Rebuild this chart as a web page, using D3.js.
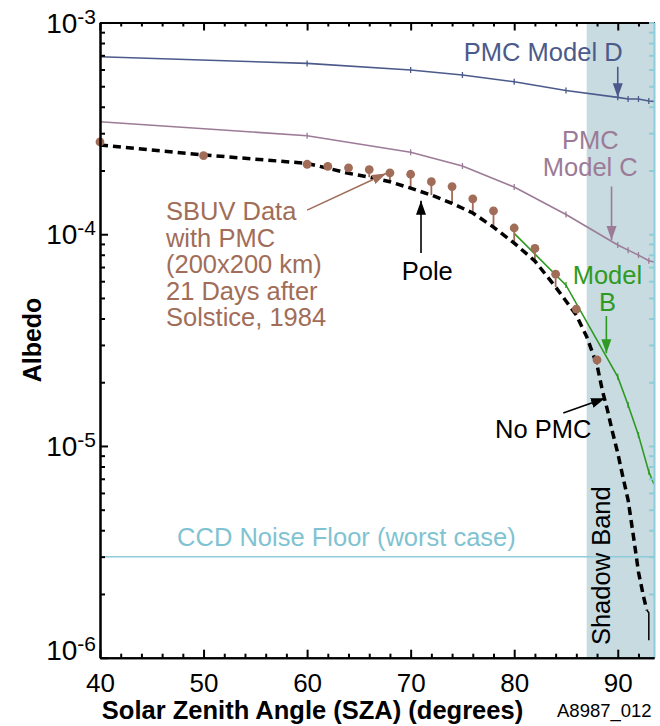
<!DOCTYPE html>
<html>
<head>
<meta charset="utf-8">
<script src="https://cdn.jsdelivr.net/npm/d3@7"></script>
<style>
  body { margin: 0; background: #fff; }
  svg { display: block; font-family: "Liberation Sans", Arial, sans-serif; }
</style>
</head>
<body>
<svg id="chart" width="660" height="726"></svg>
<script>
// SBUV measurements with PMC
const sbuvAngle = [40, 50, 60, 62, 64, 66, 68, 70, 72, 74, 76, 78, 80, 82, 84, 86, 88];
const sbuvAlbedo = [2.73e-4, 2.35e-4, 2.14e-4, 2.09e-4, 2.06e-4, 2.02e-4, 1.95e-4, 1.92e-4, 1.77e-4,
  1.68e-4, 1.47e-4, 1.29e-4, 1.07e-4, 8.57e-5, 6.48e-5, 4.43e-5, 2.55e-5];

// No PMC (pole) curve
const noPmcAngle = [40, 50, 60, 62, 64, 66, 68, 70, 72, 74, 76, 78, 80, 82, 84, 86, 87, 88, 88.5, 89,
  89.5, 90, 90.5, 91, 91.5, 92, 92.5, 92.8];
const noPmcAlbedo = [2.64e-4, 2.37e-4, 2.16e-4, 2.05e-4, 1.94e-4, 1.86e-4, 1.77e-4, 1.65e-4, 1.53e-4,
  1.40e-4, 1.26e-4, 1.08e-4, 9.08e-5, 7.47e-5, 5.63e-5, 4.15e-5, 3.28e-5, 2.41e-5, 1.84e-5, 1.48e-5,
  1.16e-5, 9.25e-6, 7.13e-6, 5.55e-6, 3.79e-6, 2.54e-6, 1.93e-6, 1.68e-6];
const noPmcTailAngle = [92.8, 93, 93];
const noPmcTailAlbedo = [1.68e-6, 1.63e-6, 1.21e-6];

// PMC models
const modelAngle = [40, 60, 70, 75, 80, 85, 90, 91, 92, 93, 93.5];
const modelD = [6.89e-4, 6.41e-4, 5.97e-4, 5.65e-4, 5.25e-4, 4.77e-4, 4.43e-4, 4.35e-4, 4.35e-4, 4.26e-4, 4.24e-4];
const modelC = [3.40e-4, 2.92e-4, 2.44e-4, 2.10e-4, 1.67e-4, 1.24e-4, 8.89e-5, 8.41e-5, 7.97e-5, 7.50e-5, 7.39e-5];
const modelBAngle = [80, 85, 90, 91, 92, 93, 93.5];
const modelB = [1.01e-4, 5.75e-5, 2.12e-5, 1.56e-5, 1.125e-5, 7.55e-6, 6.6e-6];

const noiseFloor = 3e-6;
const shadowStart = 87;
const xMajorTicks = [40, 50, 60, 70, 80, 90];
const yMajorTicks = [1e-6, 1e-5, 1e-4, 1e-3];

const svg = d3.select('#chart');
const plotL = 100, plotR = 654, plotT = 22.5, plotB = 657.7;

const x = d3.scaleLinear().domain([40, 93.5]).range([plotL, plotR]);
const y = d3.scaleLog().domain([1e-6, 1e-3]).range([plotB, plotT]);

const colD = '#4b5a8b', colC = '#9c7b97', colB = '#2f9a22', colSbuv = '#a16d58';
const colFloor = '#8dccd9', colBand = '#c7dbe1';

// arrow heads
const defs = svg.append('defs');
[['d', colD], ['c', colC], ['b', colB], ['s', colSbuv], ['k', '#000']].forEach(([id, c]) => {
  defs.append('marker')
    .attr('id', 'arrow-' + id)
    .attr('viewBox', '0 0 14 10')
    .attr('refX', 14).attr('refY', 5)
    .attr('markerWidth', 14).attr('markerHeight', 11)
    .attr('markerUnits', 'userSpaceOnUse')
    .attr('orient', 'auto')
    .append('path')
    .attr('d', 'M0,0L14,5L0,10z')
    .attr('fill', c);
});

// shadow band
svg.append('rect')
  .attr('x', x(shadowStart))
  .attr('y', plotT)
  .attr('width', x(93.5) - x(shadowStart))
  .attr('height', plotB - plotT)
  .attr('fill', colBand);

// noise floor
svg.append('line')
  .attr('x1', plotL).attr('x2', plotR)
  .attr('y1', y(noiseFloor)).attr('y2', y(noiseFloor))
  .attr('stroke', colFloor).attr('stroke-width', 1.5);

const line = d3.line().x(d => x(d[0])).y(d => y(d[1]));
const zip = (a, b) => a.map((v, i) => [v, b[i]]);

function drawModel(angles, values, color) {
  const pts = zip(angles, values);
  svg.append('path')
    .datum(pts)
    .attr('d', line)
    .attr('fill', 'none')
    .attr('stroke', color)
    .attr('stroke-width', 1.6);
  svg.selectAll(null)
    .data(pts.slice(1, -1))
    .enter()
    .append('line')
    .attr('x1', d => x(d[0])).attr('x2', d => x(d[0]))
    .attr('y1', d => y(d[1]) - 3).attr('y2', d => y(d[1]) + 3)
    .attr('stroke', color).attr('stroke-width', 1.3);
}

drawModel(modelAngle, modelD, colD);
drawModel(modelAngle, modelC, colC);
drawModel(modelBAngle, modelB, colB);

// stems from SBUV points down to the no-PMC curve
const sbuvPts = zip(sbuvAngle, sbuvAlbedo);
svg.selectAll('.stem')
  .data(sbuvPts.filter(d => {
    const i = noPmcAngle.indexOf(d[0]);
    return i >= 0 && noPmcAlbedo[i] < d[1];
  }))
  .enter()
  .append('line')
  .attr('class', 'stem')
  .attr('x1', d => x(d[0])).attr('x2', d => x(d[0]))
  .attr('y1', d => y(d[1]))
  .attr('y2', d => y(noPmcAlbedo[noPmcAngle.indexOf(d[0])]))
  .attr('stroke', colSbuv).attr('stroke-width', 1.8);

// no PMC dashed curve
svg.append('path')
  .datum(zip(noPmcAngle, noPmcAlbedo))
  .attr('d', line)
  .attr('fill', 'none')
  .attr('stroke', '#000')
  .attr('stroke-width', 3.5)
  .attr('stroke-dasharray', '8,5');
svg.append('path')
  .datum(zip(noPmcTailAngle, noPmcTailAlbedo))
  .attr('d', line)
  .attr('fill', 'none')
  .attr('stroke', '#000')
  .attr('stroke-width', 1.5);

// SBUV points
svg.selectAll('.sbuv')
  .data(sbuvPts)
  .enter()
  .append('circle')
  .attr('class', 'sbuv')
  .attr('cx', d => x(d[0]))
  .attr('cy', d => y(d[1]))
  .attr('r', 4.4)
  .attr('fill', colSbuv);

// axes
const xMinor = d3.range(42, 93.5, 2).filter(v => v % 10 !== 0);
const yMinor = y.ticks().filter(v => !yMajorTicks.some(m => Math.abs(m - v) / m < 1e-6));

function styleAxis(g, color, width) {
  g.select('.domain').attr('stroke', color).attr('stroke-width', width);
  g.selectAll('.tick line').attr('stroke', color).attr('stroke-width', width);
  g.selectAll('.tick text').remove();
}

svg.append('g')
  .attr('transform', `translate(0,${plotT})`)
  .call(d3.axisTop(x).tickValues(xMinor).tickSize(-4).tickSizeOuter(0))
  .call(g => styleAxis(g, '#000', 2));
svg.append('g')
  .attr('transform', `translate(0,${plotT})`)
  .call(d3.axisTop(x).tickValues(xMajorTicks).tickSize(-8).tickSizeOuter(0))
  .call(g => styleAxis(g, '#000', 2));

svg.append('g')
  .attr('transform', `translate(${plotR},0)`)
  .call(d3.axisRight(y).tickValues(yMinor.concat(yMajorTicks)).tickSize(-5).tickSizeOuter(0))
  .call(g => styleAxis(g, colFloor, 2));

svg.append('g')
  .attr('transform', `translate(0,${plotB})`)
  .call(d3.axisBottom(x).tickValues(xMinor).tickSize(-4).tickSizeOuter(0))
  .call(g => styleAxis(g, '#000', 2));
const xAxis = svg.append('g')
  .attr('transform', `translate(0,${plotB})`)
  .call(d3.axisBottom(x).tickValues(xMajorTicks).tickSize(-8).tickSizeOuter(0).tickPadding(16));
xAxis.select('.domain').attr('stroke', '#000').attr('stroke-width', 2);
xAxis.selectAll('.tick line').attr('stroke', '#000').attr('stroke-width', 2);
xAxis.selectAll('.tick text')
  .attr('fill', '#000')
  .attr('font-size', 26)
  .attr('font-family', '"Liberation Sans", Arial, sans-serif');

svg.append('g')
  .attr('transform', `translate(${plotL},0)`)
  .call(d3.axisLeft(y).tickValues(yMinor).tickSize(-5).tickSizeOuter(0))
  .call(g => styleAxis(g, '#000', 2));
svg.append('g')
  .attr('transform', `translate(${plotL},0)`)
  .call(d3.axisLeft(y).tickValues(yMajorTicks).tickSize(-8).tickSizeOuter(0))
  .call(g => styleAxis(g, '#000', 2));

// y labels as 10^n
const yLabels = svg.append('g');
yMajorTicks.forEach(v => {
  const t = yLabels.append('text')
    .attr('x', plotL - 4)
    .attr('y', Math.min(y(v) + 10, 660))
    .attr('text-anchor', 'end')
    .attr('fill', '#000');
  t.append('tspan').attr('font-size', 28).text('10');
  t.append('tspan').attr('font-size', 21).attr('dy', -9).text('-' + Math.round(-Math.log10(v)));
});

// titles
svg.append('text')
  .attr('transform', 'translate(41,340) rotate(-90)')
  .attr('text-anchor', 'middle')
  .attr('font-size', 25)
  .attr('font-weight', 'bold')
  .text('Albedo');
svg.append('text')
  .attr('x', 312.5).attr('y', 719)
  .attr('text-anchor', 'middle')
  .attr('font-size', 25.5)
  .attr('font-weight', 'bold')
  .text('Solar Zenith Angle (SZA) (degrees)');
svg.append('text')
  .attr('x', 557).attr('y', 717)
  .attr('font-size', 18.5)
  .text('A8987_012');

// annotations (positions in data coordinates)
const fs = 25.5;
function label(lines, ax, av, color, anchor, lineH) {
  const t = svg.append('text')
    .attr('x', x(ax)).attr('y', y(av))
    .attr('text-anchor', anchor)
    .attr('font-size', fs)
    .attr('fill', color);
  lines.forEach((s, i) => {
    t.append('tspan').attr('x', x(ax)).attr('dy', i === 0 ? 0 : lineH).text(s);
  });
}
function arrow(a1, v1, a2, v2, color, id) {
  svg.append('line')
    .attr('x1', x(a1)).attr('y1', y(v1))
    .attr('x2', x(a2)).attr('y2', y(v2))
    .attr('stroke', color).attr('stroke-width', 1.6)
    .attr('marker-end', `url(#arrow-${id})`);
}

label(['PMC Model D'], 82.8, 6.58e-4, colD, 'middle', 0);
arrow(90, 6.18e-4, 90, 4.43e-4, colD, 'd');

label(['PMC', 'Model C'], 87.35, 2.52e-4, colC, 'middle', 26.5);
arrow(89.4, 1.68e-4, 89.4, 9.39e-5, colC, 'c');

label(['Model', 'B'], 89.0, 5.8e-5, colB, 'middle', 26.5);
arrow(88.9, 4.11e-5, 88.9, 2.74e-5, colB, 'b');

label(['No PMC'], 78.15, 1.087e-5, '#000', 'start', 0);
arrow(84.74, 1.43e-5, 88.77, 1.68e-5, '#000', 'k');

label(['Pole'], 69.14, 6.07e-5, '#000', 'start', 0);
arrow(71, 8.15e-5, 71, 1.44e-4, '#000', 'k');

label(['SBUV Data', 'with PMC', '(200x200 km)', '21 Days after', 'Solstice, 1984'],
  46.37, 1.167e-4, colSbuv, 'start', 26.5);
arrow(60, 1.30e-4, 67.62, 1.935e-4, colSbuv, 's');

label(['CCD Noise Floor (worst case)'], 63.8, 3.37e-6, '#7fc3d2', 'middle', 0);

svg.append('text')
  .attr('transform', `translate(${x(89.25)},${y(1.147e-6)}) rotate(-90)`)
  .attr('font-size', fs)
  .attr('fill', '#000')
  .text('Shadow Band');
</script>
</body>
</html>
